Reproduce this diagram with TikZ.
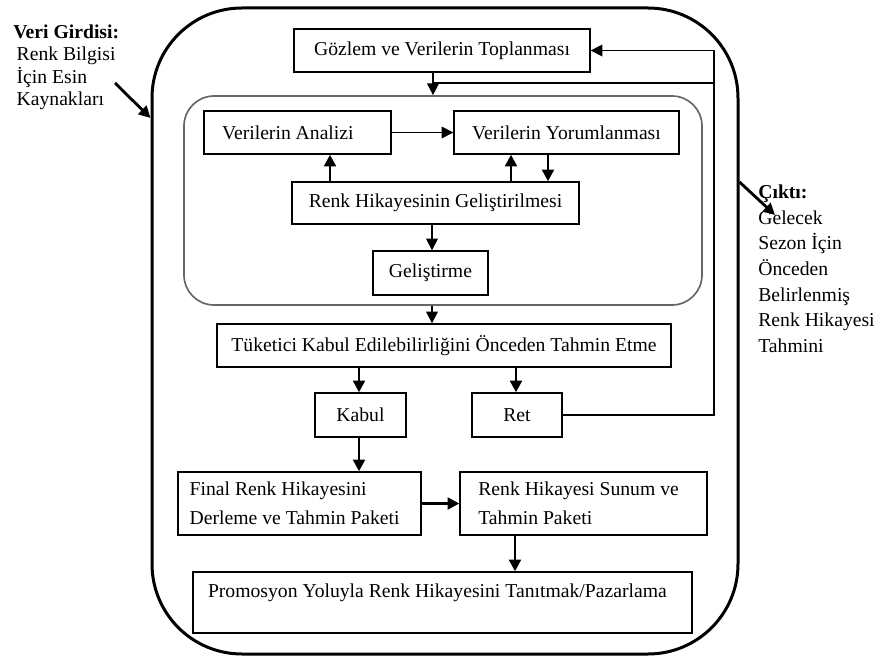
\documentclass[tikz,border=0pt]{standalone}
\usepackage{fontspec}
\setmainfont{Liberation Serif}
\usetikzlibrary{arrows.meta}
\newcommand{\pxl}{0.6pt}

\begin{document}
\begin{tikzpicture}[x=0.6pt, y=-0.6pt, font=\fontsize{11.8}{14}\selectfont,
		kutu/.style={draw, line width=0.8pt, inner sep=0pt, align=center},
		ince/.style={line width=0.8pt},
		inceok/.style={line width=0.8pt, -{Triangle[length=7pt, width=7pt]}},
		kalinok/.style={line width=1.7pt, -{Triangle[length=7pt, width=7pt]}}]
	\useasboundingbox (0,0) rectangle (878,657);
	% frames
	\node[draw, line width=1.8pt, rounded corners=54pt, minimum width=586*\pxl, minimum height=646*\pxl] (surec) at (445,331) {};
	\node[draw=black!60, line width=1pt, rounded corners=18pt, minimum width=518*\pxl, minimum height=209*\pxl] (icblok) at (443,200.5) {};
	% boxes
	\node[kutu, minimum width=296*\pxl, minimum height=43*\pxl] (gozlem) at (442,50.5) {Gözlem ve Verilerin Toplanması};
	\node[kutu, align=flush left, text width=90.6pt, inner xsep=10.8pt, minimum height=43*\pxl] (analiz) at (297.5,132.5) {Verilerin Analizi};
	\node[kutu, minimum width=225*\pxl, minimum height=43*\pxl] (yorum) at (566.5,132.5) {Verilerin Yorumlanması};
	\node[kutu, minimum width=287*\pxl, minimum height=42*\pxl] (gelis) at (435.5,203) {Renk Hikayesinin Geliştirilmesi};
	\node[kutu, minimum width=115*\pxl, minimum height=44*\pxl] (gelistirme) at (430.5,273) {Geliştirme};
	\node[kutu, minimum width=454*\pxl, minimum height=43*\pxl] (tuketici) at (444,345.5) {Tüketici Kabul Edilebilirliğini Önceden Tahmin Etme};
	\node[kutu, minimum width=91*\pxl, minimum height=44*\pxl] (kabul) at (360.5,415) {Kabul};
	\node[kutu, minimum width=90*\pxl, minimum height=44*\pxl] (ret) at (517,415) {Ret};
	\node[kutu, align=flush left, text width=131.8pt, inner xsep=7pt, minimum height=63*\pxl, font=\fontsize{11.8}{17.4}\selectfont] (final) at (299.5,503.5) {Final Renk Hikayesini\\Derleme ve Tahmin Paketi};
	\node[kutu, align=flush left, text width=126.2pt, inner xsep=11pt, minimum height=63*\pxl, font=\fontsize{11.8}{17.4}\selectfont] (sunum) at (583.5,503.5) {Renk Hikayesi Sunum ve\\Tahmin Paketi};
	\node[kutu, align=flush left, text width=281.4pt, inner xsep=9pt, text height=8.1pt, text depth=14.7pt, minimum height=61*\pxl] (promosyon) at (442.5,602.5) {Promosyon Yoluyla Renk Hikayesini Tanıtmak/Pazarlama};
	% side texts
	\node[anchor=north west, inner sep=0pt, align=left, font=\fontsize{11.8}{13.4}\selectfont] (girdi) at (13,24.6) {\textbf{Veri Girdisi:}\\\hspace*{2pt}Renk Bilgisi\\\hspace*{2pt}İçin Esin\\\hspace*{2pt}Kaynakları};
	\node[anchor=north west, inner sep=0pt, align=left, font=\fontsize{11.8}{15.4}\selectfont] (cikti) at (758,184.6) {\textbf{Çıktı:}\\Gelecek\\Sezon İçin\\Önceden\\Belirlenmiş\\Renk Hikayesi\\Tahmini};
	\coordinate (girdiok) at (115,83);
	\coordinate (ciktiok) at (775,215);
	\draw[kalinok] (girdiok) -- (surec.west |- 0,118);
	\draw[kalinok] (surec.east |- 0,182) -- (ciktiok);
	% connectors
	\draw[inceok] (433,0 |- gozlem.south) -- (433,0 |- icblok.north);
	\draw[inceok] (analiz.east) -- (yorum.west);
	\foreach \x/\bas/\son in {330/gelis.north/analiz.south, 511/gelis.north/yorum.south, 548/yorum.south/gelis.north}
		\draw[kalinok] (\x,0 |- \bas) -- (\x,0 |- \son);
	\draw[inceok] (432,0 |- gelis.south) -- (432,0 |- gelistirme.north);
	\draw[inceok] (432,0 |- icblok.south) -- (432,0 |- tuketici.north);
	\foreach \x/\hedef in {359/kabul, 516/ret}
		\draw[kalinok] (\x,0 |- tuketici.south) -- (\x,0 |- \hedef.north);
	\draw[kalinok] (359,0 |- kabul.south) -- (359,0 |- final.north);
	\draw[kalinok] (final.east) -- (sunum.west);
	\draw[kalinok] (515,0 |- sunum.south) -- (515,0 |- promosyon.north);
	% feedback from Ret
	\coordinate (donus) at (714,0 |- gozlem.east);
	\draw[inceok] (ret.east) -| (donus) -- (gozlem.east);
	\draw[ince] (714,83) -- (433,83);
\end{tikzpicture}
\end{document}
